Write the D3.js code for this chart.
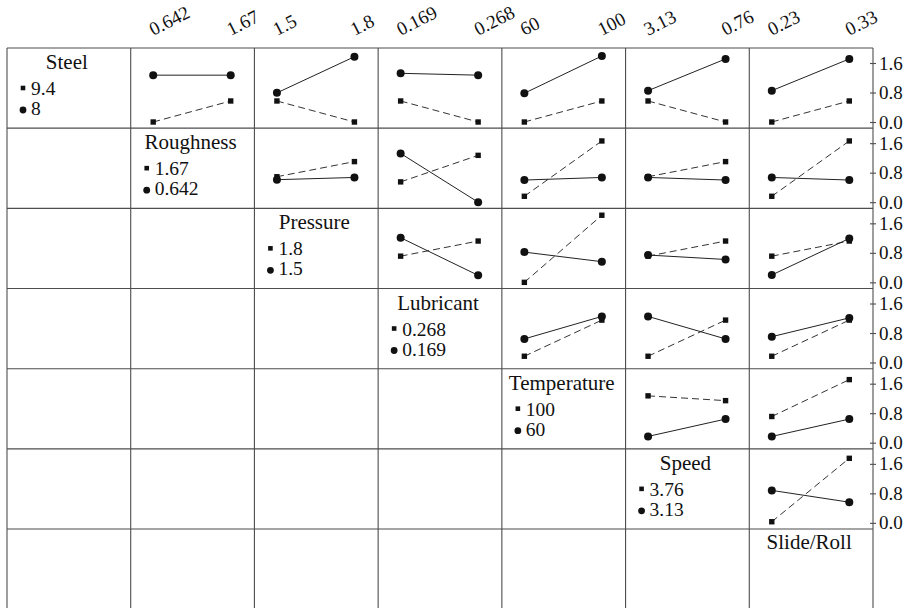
<!DOCTYPE html>
<html lang="en">
<head>
  <meta charset="UTF-8">
  <title>Interaction Plot Matrix</title>
  <script src="https://d3js.org/d3.v7.min.js"></script>
  <style>
    body { margin: 0; background: #fff; }
  </style>
</head>
<body>
  <svg id="chart" width="909" height="608"></svg>

  <script>
    // factors, in row / column order
    const factors = ["Steel", "Roughness", "Pressure", "Lubricant", "Temperature", "Speed", "Slide/Roll"];

    // legend levels per row factor (square = first line, circle = second line)
    const highLevels = ["9.4", "1.67", "1.8", "0.268", "100", "3.76"];
    const lowLevels = ["8", "0.642", "1.5", "0.169", "60", "3.13"];

    // x-axis labels above each column (column 0 has none)
    const colLabels = [null, ["0.642", "1.67"], ["1.5", "1.8"], ["0.169", "0.268"],
      ["60", "100"], ["3.13", "0.76"], ["0.23", "0.33"]];

    // means for the square (dashed) series, row i, columns i+1..6
    const squareMeans = [
      [[0.00, 0.57], [0.57, 0.00], [0.57, 0.00], [0.00, 0.57], [0.57, 0.00], [0.00, 0.57]],
      [[0.69, 1.10], [0.55, 1.27], [0.16, 1.66], [0.69, 1.10], [0.16, 1.66]],
      [[0.71, 1.12], [0.00, 1.82], [0.71, 1.12], [0.71, 1.12]],
      [[0.17, 1.15], [0.17, 1.15], [0.17, 1.15]],
      [[1.27, 1.14], [0.71, 1.71]],
      [[0.03, 1.75]]
    ];

    // means for the circle (solid) series
    const circleMeans = [
      [[1.27, 1.27], [0.79, 1.77], [1.32, 1.27], [0.78, 1.79], [0.85, 1.71], [0.85, 1.71]],
      [[0.61, 0.67], [1.32, 0.00], [0.60, 0.67], [0.67, 0.60], [0.67, 0.60]],
      [[1.21, 0.19], [0.82, 0.56], [0.74, 0.62], [0.20, 1.19]],
      [[0.64, 1.25], [1.25, 0.64], [0.70, 1.21]],
      [[0.17, 0.64], [0.17, 0.64]],
      [[0.88, 0.56]]
    ];

    const yTicks = [0.0, 0.8, 1.6];

    const serif = "'Liberation Serif', 'Times New Roman', serif";
    const svg = d3.select("#chart");
    const gridLeft = 7, gridRight = 873, gridTop = 48, rowH = 80.17;

    const colScale = d3.scaleBand().domain(factors).range([gridLeft, gridRight]);
    const colW = colScale.bandwidth();
    const rowTop = i => gridTop + i * rowH;

    // grid
    const grid = svg.append("g").attr("stroke", "#4d4d4d").attr("stroke-width", 1.1);
    factors.forEach((f, i) => {
      grid.append("line")
        .attr("x1", gridLeft).attr("x2", gridRight)
        .attr("y1", rowTop(i)).attr("y2", rowTop(i));
    });
    grid.append("line").attr("x1", gridLeft).attr("x2", gridLeft).attr("y1", gridTop).attr("y2", 610);
    factors.forEach(f => {
      const x = colScale(f) + colW;
      grid.append("line").attr("x1", x).attr("x2", x).attr("y1", gridTop).attr("y2", 610);
    });

    // level scale inside a column
    const levelX = (j) => d3.scaleLinear().domain([0, 1])
      .range([colScale(factors[j]) + 22.5, colScale(factors[j]) + 100]);

    const rowY = (i) => d3.scaleLinear().domain([0, 1.6]).range([rowTop(i) + 74, rowTop(i) + 15]);

    function label(sel, size) {
      return sel.style("font-family", serif).style("font-size", size + "px").style("fill", "#111");
    }

    // top labels
    colLabels.forEach((labs, j) => {
      if (!labs) return;
      const xs = levelX(j);
      labs.forEach((t, k) => {
        svg.append("text")
          .attr("transform", `translate(${xs(k)},36) rotate(-27)`)
          .call(label, 19)
          .text(t);
      });
    });

    // right axes
    for (let i = 0; i < 6; i++) {
      const ax = d3.axisRight(rowY(i)).tickValues(yTicks).tickSize(6).tickPadding(3)
        .tickFormat(d3.format(".1f"));
      const g = svg.append("g").attr("transform", `translate(${gridRight - 3},0)`).call(ax);
      g.select(".domain").remove();
      g.selectAll("line").attr("stroke", "#4d4d4d").attr("stroke-width", 1.1);
      g.selectAll("text").call(label, 19);
    }

    // titles and legends on the diagonal
    factors.forEach((f, i) => {
      const cx = colScale(f);
      svg.append("text")
        .attr("x", cx + colW / 2 - 2)
        .attr("y", rowTop(i) + (i < 6 ? 21 : 20))
        .attr("text-anchor", "middle")
        .call(label, 21)
        .text(f);
      if (i < 6) {
        const y1 = rowTop(i) + 47, y2 = rowTop(i) + 67;
        svg.append("rect")
          .attr("x", cx + 16 - 2.3).attr("y", y1 - 7 - 2.3)
          .attr("width", 4.6).attr("height", 4.6).attr("fill", "#111");
        svg.append("text").attr("x", cx + 24).attr("y", y1).call(label, 19.5).text(highLevels[i]);
        svg.append("circle")
          .attr("cx", cx + 16).attr("cy", y2 - 5).attr("r", 3.4).attr("fill", "#111");
        svg.append("text").attr("x", cx + 24).attr("y", y2).call(label, 19.5).text(lowLevels[i]);
      }
    });

    // interaction panels
    const line = d3.line();
    for (let i = 0; i < 6; i++) {
      const ys = rowY(i);
      for (let j = i + 1; j < 7; j++) {
        const xs = levelX(j);
        const sq = squareMeans[i][j - i - 1];
        const ci = circleMeans[i][j - i - 1];
        const g = svg.append("g");

        g.append("path")
          .attr("d", line(sq.map((v, k) => [xs(k), ys(v)])))
          .attr("fill", "none").attr("stroke", "#333").attr("stroke-width", 1)
          .attr("stroke-dasharray", "7,4");
        g.append("path")
          .attr("d", line(ci.map((v, k) => [xs(k), ys(v)])))
          .attr("fill", "none").attr("stroke", "#222").attr("stroke-width", 1);

        g.selectAll("rect.pt").data(sq).join("rect")
          .attr("class", "pt")
          .attr("x", (v, k) => xs(k) - 2.7).attr("y", v => ys(v) - 2.7)
          .attr("width", 5.4).attr("height", 5.4).attr("fill", "#111");
        g.selectAll("circle.pt").data(ci).join("circle")
          .attr("class", "pt")
          .attr("cx", (v, k) => xs(k)).attr("cy", v => ys(v))
          .attr("r", 4).attr("fill", "#111");
      }
    }
  </script>
</body>
</html>
